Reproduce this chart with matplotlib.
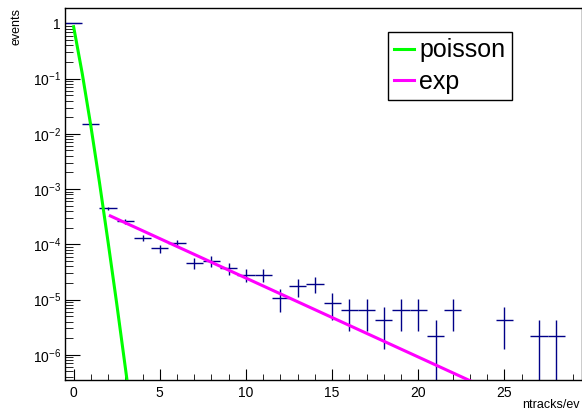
import numpy as np
import matplotlib
matplotlib.use('Agg')
import matplotlib.pyplot as plt
from matplotlib.ticker import FixedLocator, FuncFormatter, LogLocator, MultipleLocator

plt.rcParams['font.family'] = 'Liberation Sans'
plt.rcParams['mathtext.fontset'] = 'custom'
plt.rcParams['mathtext.rm'] = 'Liberation Sans'
plt.rcParams['mathtext.it'] = 'Liberation Sans:italic'

# histogram: ntracks per event (bin centres, content, error)
ntracks = [0, 1, 2, 3, 4, 5, 6, 7, 8, 9, 10, 11, 12, 13, 14, 15, 16, 17, 18, 19, 20, 21, 22, 25, 27, 28]
events = [1.0, 1.48e-2, 4.49e-4, 2.6e-4, 1.32e-4, 8.46e-5, 1.04e-4, 4.56e-5, 4.99e-5, 3.69e-5,
          2.82e-5, 2.82e-5, 1.085e-5, 1.736e-5, 1.95e-5, 8.68e-6, 6.51e-6, 6.51e-6, 4.34e-6, 6.51e-6,
          6.51e-6, 2.17e-6, 6.51e-6, 4.34e-6, 2.17e-6, 2.17e-6]
events_err = [1.5e-3, 1.8e-4, 3.12e-5, 2.38e-5, 1.69e-5, 1.35e-5, 1.5e-5, 9.9e-6, 1.04e-5, 8.9e-6,
              7.8e-6, 7.8e-6, 4.85e-6, 6.1e-6, 6.5e-6, 4.34e-6, 3.76e-6, 3.76e-6, 3.07e-6, 3.76e-6,
              3.76e-6, 2.17e-6, 3.76e-6, 3.07e-6, 2.17e-6, 2.17e-6]

# fit curves, points
poisson_x = [0, 0.5, 1, 1.5, 2, 2.5, 3, 3.1]
poisson_y = [0.87, 0.124, 1.39e-2, 1.32e-3, 1.1e-4, 8.5e-6, 5.9e-7, 3.46e-7]
exp_x = [2.13, 23.0]
exp_y = [3.27e-4, 3.4e-7]

fig = plt.figure(figsize=(5.82, 4.13), dpi=100, facecolor='white')
ax = fig.add_axes([65 / 582, 1 - 380 / 413, 517 / 582, 372 / 413])

ax.errorbar(ntracks, events, xerr=0.5, yerr=events_err, fmt='none',
            ecolor='#000088', elinewidth=1.0, capsize=0, zorder=2)
ax.plot(poisson_x, poisson_y, color='#00ff00', lw=2.2, label='poisson', zorder=3)
ax.plot(exp_x, exp_y, color='#ff00ff', lw=2.2, label='exp', zorder=3)

ax.set_yscale('log', nonpositive='clip')
ax.set_xlim(-0.5, 29.5)
ax.set_ylim(3.5e-7, 1.9)

# axis ticks
ax.xaxis.set_major_locator(MultipleLocator(5))
ax.xaxis.set_minor_locator(MultipleLocator(1))
ax.yaxis.set_major_locator(FixedLocator([1e-6, 1e-5, 1e-4, 1e-3, 1e-2, 1e-1, 1]))
ax.yaxis.set_minor_locator(LogLocator(base=10, subs=np.arange(2, 10)))


def ylab(v, pos):
    if v >= 1:
        return '1'
    return r'$\mathregular{10^{%d}}$' % int(round(np.log10(v)))


ax.yaxis.set_major_formatter(FuncFormatter(ylab))
ax.tick_params(axis='both', which='both', direction='in', top=False, right=False,
               labelsize=10, colors='black')
ax.tick_params(axis='x', which='major', length=8, pad=4)
ax.tick_params(axis='x', which='minor', length=4)
ax.tick_params(axis='y', which='major', length=11, pad=3)
ax.tick_params(axis='y', which='minor', length=5.5)
for s in ax.spines.values():
    s.set_linewidth(1.0)

fig.text(16 / 582, 1 - 8 / 413, 'events', rotation=90, ha='center', va='top', fontsize=9)
fig.text(580 / 582, 1 - 405 / 413, 'ntracks/ev', ha='right', va='center', fontsize=9)

ax.legend(loc='upper left', bbox_to_anchor=(0.625, 0.935), borderaxespad=0,
          fontsize=18, labelspacing=0.3, handlelength=0.8, handletextpad=0.2,
          borderpad=0.25, fancybox=False, edgecolor='black', framealpha=1)

fig.savefig('out.png', dpi=100)
